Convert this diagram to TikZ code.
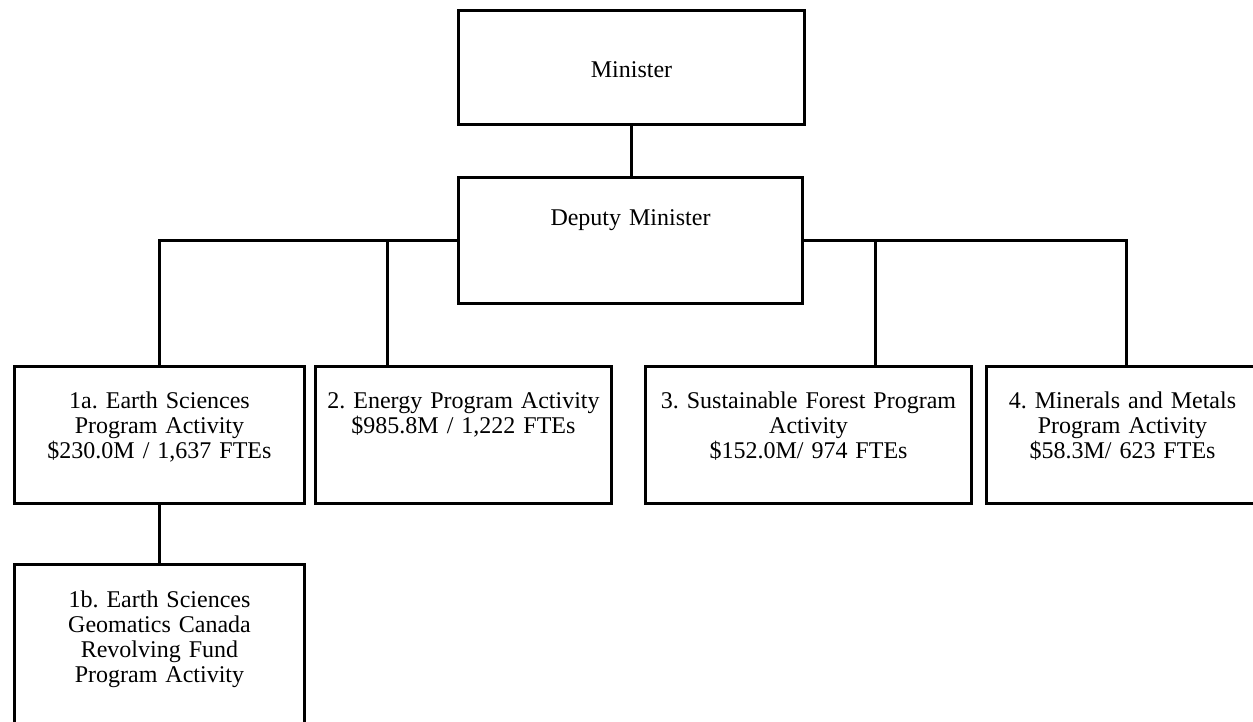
\documentclass[tikz,border=0pt]{standalone}
\usepackage{fontspec}
\setmainfont{Liberation Serif}
\frenchspacing
\usetikzlibrary{positioning}

\begin{document}
\begin{tikzpicture}[
  x=1pt, y=-1pt,
  every node/.style={inner sep=0pt},
  unitbox/.style={draw, line width=3pt, anchor=north west},
  boxtext/.style={font=\fontsize{24}{25.3}\selectfont, align=center, text width=320pt, anchor=base},
  link/.style={line width=3pt}
]
\useasboundingbox (0,0) rectangle (1253,721);

% Boxes
\node[unitbox, minimum width=346pt, minimum height=114pt] (minister) at (457,9) {};
\node[unitbox, minimum width=344pt, minimum height=126pt] (deputy) at (457,176) {};
\node[unitbox, minimum width=290pt, minimum height=137pt] (earth) at (13,365) {};
\node[unitbox, minimum width=296pt, minimum height=137pt] (energy) at (314,365) {};
\node[unitbox, minimum width=326pt, minimum height=137pt] (forest) at (644,365) {};
\node[unitbox, minimum width=272pt, minimum height=137pt] (minerals) at (985,365) {};
\node[unitbox, minimum width=290pt, minimum height=162pt] (geomatics) at (13,563) {};

% Texts
\node[boxtext] (minister-text) at ([yshift=-68pt]minister.north) {Minister};
\node[boxtext] (deputy-text) at ([yshift=-49pt]deputy.north) {Deputy Minister};
\node[boxtext] (earth-text) at ([yshift=-43pt]earth.north) {1a. Earth Sciences\\Program Activity\\\$230.0M / 1,637 FTEs};
\node[boxtext] (energy-text) at ([yshift=-43pt]energy.north) {2. Energy Program Activity\\\$985.8M / 1,222 FTEs};
\node[boxtext] (forest-text) at ([yshift=-43pt]forest.north) {3. Sustainable Forest Program\\Activity\\\$152.0M/ 974 FTEs};
\node[boxtext] (minerals-text) at ([yshift=-43pt]minerals.north) {4. Minerals and Metals\\Program Activity\\\$58.3M/ 623 FTEs};
\node[boxtext] (geomatics-text) at ([yshift=-44pt]geomatics.north) {1b. Earth Sciences\\Geomatics Canada\\Revolving Fund\\Program Activity};

% Lines
\draw[link] (minister.south) -- (minister.south |- deputy.north);
\draw[link] (deputy.west) -| (earth.north);
\draw[link] (deputy.west) -| ([xshift=73pt]energy.north west);
\draw[link] (deputy.east) -| ([xshift=231pt]forest.north west);
\draw[link] (deputy.east) -| ([xshift=141pt]minerals.north west);
\draw[link] (earth.south) -- (geomatics.north);

\end{tikzpicture}
\end{document}
